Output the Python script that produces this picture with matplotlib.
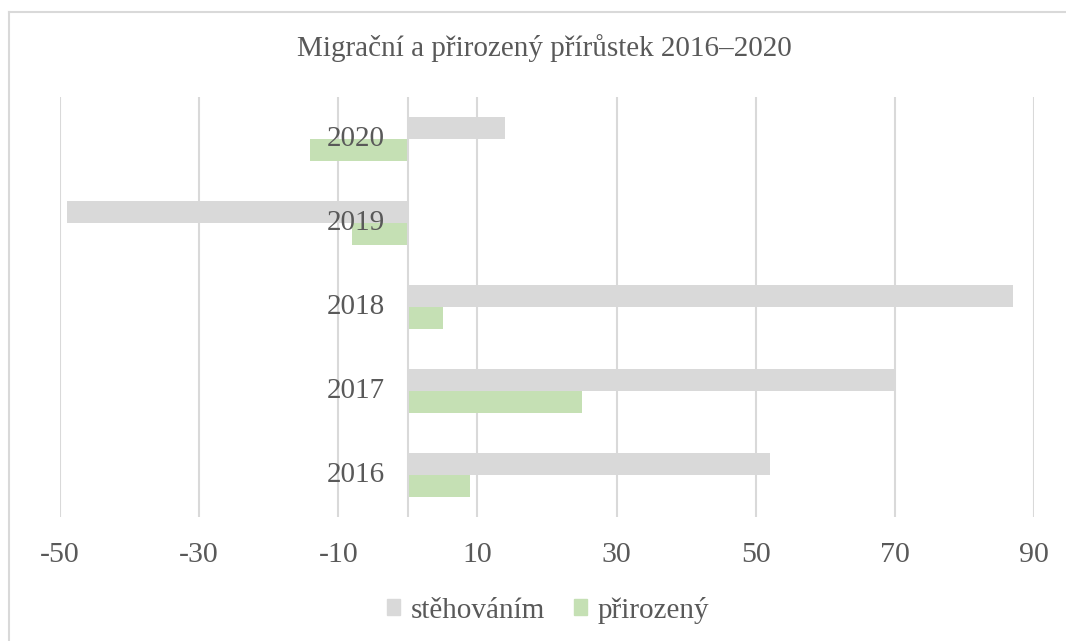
import numpy as np
import matplotlib
matplotlib.use("Agg")
import matplotlib.pyplot as plt
import matplotlib.transforms as mtransforms
from matplotlib.patches import Patch
from matplotlib.lines import Line2D

# data
years = ['2016', '2017', '2018', '2019', '2020']
stehovanim = [52, 70, 87, -49, 14]
prirozeny = [9, 25, 5, -8, -14]
xticks = [-50, -30, -10, 10, 30, 50, 70, 90]

title = 'Migrační a přirozený přírůstek 2016–2020'
labels = ['stěhováním', 'přirozený']

text_color = '#595959'
grid_color = '#d9d9d9'
colors = ['#d9d9d9', '#c5e0b4']

plt.rcParams['font.family'] = ['Liberation Serif', 'DejaVu Serif']

fig = plt.figure(figsize=(10.66, 6.41), dpi=100)
ax = fig.add_axes([60/1066, 1 - 517/641, (1034 - 60)/1066, (517 - 97)/641])

y = np.arange(len(years))
h = 0.262
ax.barh(y + h/2, stehovanim, height=h, color=colors[0], zorder=3)
ax.barh(y - h/2, prirozeny, height=h, color=colors[1], zorder=3)

ax.set_xlim(-50, 90)
ax.set_ylim(-0.5, len(years) - 0.5)
ax.set_xticks(xticks)
ax.set_xticklabels([str(v) for v in xticks], fontsize=21.5, color=text_color)
ax.tick_params(axis='x', length=0, pad=18)
ax.set_yticks([])
ax.grid(axis='x', color=grid_color, linewidth=1.5, zorder=0)
ax.axvline(0, color=grid_color, linewidth=1.5, zorder=4)
for s in ax.spines.values():
    s.set_visible(False)

# category labels sit next to the zero axis
off = mtransforms.offset_copy(ax.transData, fig=fig, x=-23, y=0, units='dots')
for yi, lab in zip(y, years):
    ax.text(0, yi, lab, transform=off, ha='right', va='center',
            fontsize=21, color=text_color, zorder=5)

fig.text(544/1066, 1 - 48/641, title, ha='center', va='center',
         fontsize=21, color=text_color)

handles = [Patch(color=c) for c in colors]
fig.legend(handles, labels, loc='center', bbox_to_anchor=(548/1066, 1 - 610/641),
           ncol=2, frameon=False, fontsize=21, labelcolor=text_color,
           handlelength=0.45, handleheight=0.45, handletextpad=0.35, columnspacing=1.0)

# chart border, only top and left are visible in the reference
bx, by = 8.5/1066, 1 - 11.5/641
fig.add_artist(Line2D([bx, 1.0], [by, by], transform=fig.transFigure,
                      color=grid_color, linewidth=1.5))
fig.add_artist(Line2D([bx, bx], [0.0, by], transform=fig.transFigure,
                      color=grid_color, linewidth=1.5))

fig.savefig('out.png', dpi=100, facecolor='white')
